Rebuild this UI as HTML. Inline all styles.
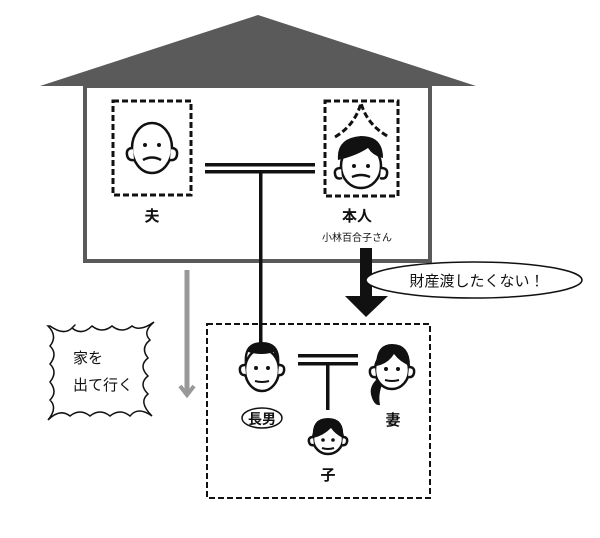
<!DOCTYPE html>
<html><head><meta charset="utf-8"><style>
body{margin:0;background:#fff}
svg text{font-family:"Liberation Sans","Noto Sans CJK JP",sans-serif;fill:#111}
</style></head><body>
<svg width="600" height="533" viewBox="0 0 600 533" xmlns="http://www.w3.org/2000/svg">
<polygon points="258,15 40,86 476,86" fill="#5a5a5a"/>
<rect x="85" y="86" width="345" height="175" fill="#fff" stroke="#5a5a5a" stroke-width="4"/>
<g fill="none" stroke="#111" stroke-width="3" stroke-dasharray="6,3">
<rect x="113" y="101" width="78" height="94"/>
<rect x="325" y="101" width="73" height="95"/>
<path d="M335,137 Q355,125 361,103 Q367,125 389,137"/>
</g>
<g stroke="#111" stroke-width="2.5" fill="#fff">
<ellipse cx="152" cy="148" rx="20" ry="25"/>
<path d="M133,148 q-7,0 -6,7 q1,6 7,5" /><path d="M171,148 q7,0 6,7 q-1,6 -7,5"/>
<path d="M143,160 q9,-5 18,0" fill="none"/>
</g>
<circle cx="145" cy="145" r="2" fill="#111"/><circle cx="159" cy="145" r="2" fill="#111"/>
<g stroke="#111" stroke-width="2.5" fill="#fff">
<ellipse cx="361" cy="166" rx="20" ry="22"/>
<path d="M341,168 q-7,0 -6,6 q1,6 7,4"/><path d="M381,168 q7,0 6,6 q-1,6 -7,4"/>
</g>
<path d="M338,160 q-2,-22 23,-24 q22,0 22,22 q-10,-2 -15,-10 q-12,8 -30,12z" fill="#111"/>
<circle cx="354" cy="166" r="2" fill="#111"/><circle cx="368" cy="166" r="2" fill="#111"/>
<path d="M352,177 q9,-4 18,0" stroke="#111" stroke-width="2.5" fill="none"/>
<rect x="205" y="163" width="110" height="3.5" fill="#111"/>
<rect x="205" y="170" width="110" height="3.5" fill="#111"/>
<rect x="259" y="172" width="3.5" height="175" fill="#111"/>
<text x="152" y="221" font-size="15" font-weight="bold" text-anchor="middle">夫</text>
<text x="357" y="221" font-size="15" font-weight="bold" text-anchor="middle">本人</text>
<text x="357" y="241" font-size="10" text-anchor="middle">小林百合子さん</text>
<rect x="360" y="248" width="12" height="52" fill="#111"/>
<polygon points="345,296 388,296 366,317" fill="#111"/>
<ellipse cx="474" cy="280" rx="108" ry="18" fill="#fff" stroke="#111" stroke-width="1.5"/>
<text x="477" y="286" font-size="15" text-anchor="middle">財産渡したくない！</text>
<line x1="187" y1="270" x2="187" y2="394" stroke="#999" stroke-width="5"/>
<polyline points="180,386 187,395 194,386" fill="none" stroke="#999" stroke-width="4"/>
<path d="M50,326 q14,10 22,2 q6,-6 0,0 q10,8 20,-2 q10,8 20,0 q10,8 20,0 q8,6 22,-4 q-12,10 -4,18 q-10,8 -2,18 q-10,8 0,18 q-10,8 0,18 q-10,8 4,22 q-14,-10 -22,0 q-10,-8 -20,0 q-10,-8 -20,0 q-10,-8 -20,0 q-10,-8 -22,4 q10,-12 2,-20 q8,-8 0,-18 q8,-10 0,-18 q8,-10 0,-18 q8,-10 -2,-20z" fill="#fff" stroke="#111" stroke-width="1.5"/>
<text x="73" y="363" font-size="15">家を</text>
<text x="73" y="390" font-size="15">出て行く</text>
<rect x="207" y="324" width="223" height="174" fill="none" stroke="#111" stroke-width="2" stroke-dasharray="6,3"/>
<g stroke="#111" stroke-width="2.5" fill="#fff">
<ellipse cx="262" cy="370" rx="17" ry="21"/>
<path d="M245,365 q-6,0 -5,6 q1,5 6,4"/><path d="M279,365 q6,0 5,6 q-1,5 -6,4"/>
</g>
<path d="M245,366 q-3,-24 17,-24 q20,0 17,24 q-6,-10 -5,-14 q-12,4 -26,0z" fill="#111"/>
<circle cx="256" cy="368" r="2" fill="#111"/><circle cx="268" cy="368" r="2" fill="#111"/>
<path d="M255,381 q7,2 14,0" stroke="#111" stroke-width="2" fill="none"/>
<ellipse cx="262" cy="418" rx="20" ry="10" fill="none" stroke="#111" stroke-width="1.5"/>
<text x="262" y="424" font-size="14" font-weight="bold" text-anchor="middle">長男</text>
<g stroke="#111" stroke-width="2.5" fill="#fff">
<ellipse cx="392" cy="370" rx="17" ry="19"/>
<path d="M375,367 q-6,0 -5,6 q1,5 6,4"/><path d="M409,367 q6,0 5,6 q-1,5 -6,4"/>
</g>
<path d="M376,366 q0,-22 16,-22 q18,0 18,22 q-10,-4 -16,-12 q-6,10 -18,12z M376,380 q-8,8 -4,18 q3,8 8,7 q-2,-10 2,-20z" fill="#111"/>
<circle cx="386" cy="369" r="2" fill="#111"/><circle cx="398" cy="369" r="2" fill="#111"/>
<path d="M385,380 q7,2 14,0" stroke="#111" stroke-width="2" fill="none"/>
<text x="393" y="425" font-size="15" font-weight="bold" text-anchor="middle">妻</text>
<rect x="298" y="354" width="60" height="3.5" fill="#111"/>
<rect x="298" y="362" width="60" height="3.5" fill="#111"/>
<rect x="326" y="364" width="3.5" height="46" fill="#111"/>
<g stroke="#111" stroke-width="2.5" fill="#fff">
<ellipse cx="328" cy="439" rx="15" ry="15"/>
<path d="M313,437 q-5,0 -4,5 q1,4 5,3"/><path d="M343,437 q5,0 4,5 q-1,4 -5,3"/>
</g>
<path d="M313,438 q-2,-20 15,-20 q17,0 15,20 q-8,-4 -12,-10 q-8,8 -18,10z" fill="#111"/>
<circle cx="323" cy="440" r="1.8" fill="#111"/><circle cx="333" cy="440" r="1.8" fill="#111"/>
<path d="M322,448 q6,2 12,0" stroke="#111" stroke-width="2" fill="none"/>
<text x="328" y="480" font-size="15" font-weight="bold" text-anchor="middle">子</text>
</svg>
</body></html>
